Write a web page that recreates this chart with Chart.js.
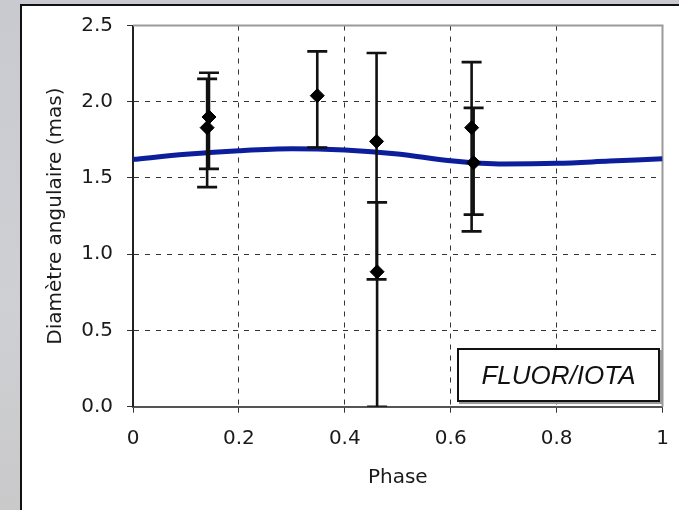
<!DOCTYPE html>
<html>
<head>
<meta charset="utf-8">
<script src="https://cdn.jsdelivr.net/npm/chart.js@4/dist/chart.umd.min.js"></script>
<style>
  html, body { margin:0; padding:0; }
  body { width:679px; height:510px; overflow:hidden; position:relative;
         background: linear-gradient(180deg, #c8cacf 0%, #cfd0d4 60%, #c9c9ca 100%); }
  #panel { position:absolute; left:20px; top:4px; width:700px; height:520px;
           background:#fff; border-left:2px solid #111; border-top:2px solid #111; }
  #wrap { position:absolute; left:0; top:0; width:679px; height:510px; }
  #label { position:absolute; left:457px; top:348px; width:199px; height:50px;
           border:2px solid #111; box-shadow: 2px 2px 0 #9a9a9a; background:#fff;
           font-family:"Liberation Sans", Arial, sans-serif; font-style:italic;
           font-size:26px; color:#111; display:flex; align-items:center; justify-content:center; }
</style>
</head>
<body>
<div id="panel"></div>
<div id="wrap"><canvas id="c" width="679" height="510"></canvas></div>
<div id="label">FLUOR/IOTA</div>
<script>
// ---- data ----
const phases    = [0.140, 0.1435, 0.348, 0.460, 0.461, 0.6395, 0.6433];
const diameters = [1.83, 1.90, 2.04, 1.74, 0.885, 1.83, 1.60];
const errLow    = [1.44, 1.56, 1.70, 0.835, 0.00, 1.15, 1.26];
const errHigh   = [2.15, 2.19, 2.33, 2.32, 1.34, 2.26, 1.96];

const modelPhase = [0, 0.1, 0.2, 0.3, 0.4, 0.5, 0.6, 0.7, 0.8, 0.9, 1.0];
const modelDiam  = [1.622, 1.655, 1.679, 1.692, 1.683, 1.657, 1.613, 1.592, 1.596, 1.611, 1.626];

const xTicks = [0, 0.2, 0.4, 0.6, 0.8, 1];
const yTicks = [0, 0.5, 1.0, 1.5, 2.0, 2.5];
const xTitle = "Phase";
const yTitle = "Diamètre angulaire (mas)";

// ---- datasets ----
const datasets = [];
datasets.push({
  type: 'line',
  data: modelPhase.map((p, i) => ({x: p, y: modelDiam[i]})),
  borderColor: '#0d1e9c',
  borderWidth: 5,
  pointRadius: 0,
  cubicInterpolationMode: 'monotone',
  fill: false,
  order: 3
});
phases.forEach((p, i) => {
  datasets.push({
    type: 'line',
    data: [{x: p, y: errLow[i]}, {x: p, y: errHigh[i]}],
    borderColor: '#111',
    borderWidth: 2.6,
    pointStyle: 'line',
    pointRadius: 10,
    pointBorderColor: '#111',
    pointBorderWidth: 2.6,
    fill: false,
    order: 2
  });
});
datasets.push({
  type: 'scatter',
  data: phases.map((p, i) => ({x: p, y: diameters[i]})),
  pointStyle: 'rectRot',
  pointRadius: 7,
  backgroundColor: '#000',
  borderColor: '#000',
  borderWidth: 1,
  order: 1
});

const frame = {
  id: 'frame',
  beforeDatasetsDraw(chart) {
    const {ctx, chartArea: a} = chart;
    ctx.save();
    ctx.strokeStyle = '#9a9a9a';
    ctx.lineWidth = 2;
    ctx.beginPath();
    ctx.moveTo(a.left, a.top);
    ctx.lineTo(a.right, a.top);
    ctx.lineTo(a.right, a.bottom);
    ctx.stroke();
    ctx.restore();
  }
};

const edge = (v, arr) => v === arr[0] || v === arr[arr.length - 1];

new Chart(document.getElementById('c'), {
  data: { datasets },
  plugins: [frame],
  options: {
    responsive: false,
    animation: false,
    layout: { padding: { left: 0, right: 16.5, top: 25.5, bottom: 0 } },
    plugins: { legend: { display: false }, tooltip: { enabled: false } },
    scales: {
      x: {
        type: 'linear', min: 0, max: 1,
        afterBuildTicks: s => { s.ticks = xTicks.map(v => ({value: v})); },
        afterFit: s => { s.height = 103.3; s.paddingRight = 0; s.paddingLeft = 0; },
        ticks: { font: { family: 'DejaVu Sans', size: 20 }, color: '#1a1a1a', padding: 14,
                 maxRotation: 0, callback: v => String(v) },
        grid: { color: c => edge(c.tick.value, xTicks) ? 'rgba(0,0,0,0)' : '#333',
                lineWidth: 1, tickLength: 6, tickColor: '#333', tickBorderDash: [],
                drawOnChartArea: true },
        border: { color: '#555', width: 2, dash: [5, 6] },
        title: { display: true, text: xTitle, font: { family: 'DejaVu Sans', size: 20 },
                 color: '#1a1a1a', padding: { top: 0, bottom: 20 } }
      },
      y: {
        type: 'linear', min: 0, max: 2.5,
        afterBuildTicks: s => { s.ticks = yTicks.map(v => ({value: v})); },
        afterFit: s => { s.width = 133; s.paddingTop = 0; s.paddingBottom = 0; },
        ticks: { font: { family: 'DejaVu Sans', size: 20 }, color: '#1a1a1a', padding: 14,
                 callback: v => Number(v).toFixed(1) },
        grid: { color: c => edge(c.tick.value, yTicks) ? 'rgba(0,0,0,0)' : '#333',
                lineWidth: 1, tickLength: 6, tickColor: '#333', tickBorderDash: [] },
        border: { color: '#222', width: 2, dash: [5, 6] },
        title: { display: true, text: yTitle, font: { family: 'DejaVu Sans', size: 20 },
                 color: '#1a1a1a', padding: { top: 44, bottom: 0 } }
      }
    }
  }
});
</script>
</body>
</html>
